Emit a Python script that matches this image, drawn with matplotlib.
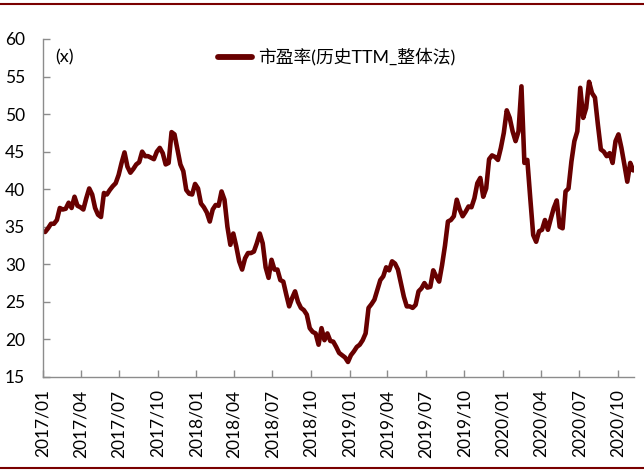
import matplotlib
matplotlib.use('Agg')
import matplotlib.pyplot as plt
import pandas as pd
from matplotlib.lines import Line2D

# Weekly P/E (TTM, whole-market method)
pe = [
    34.3, 34.8, 35.4, 35.4, 35.9, 37.5, 37.3, 37.4, 38.2, 37.5,
    39.0, 37.8, 37.6, 37.3, 38.8, 40.1, 39.3, 37.5, 36.6, 36.3,
    39.5, 39.3, 39.9, 40.4, 40.8, 41.9, 43.5, 44.9, 43.0, 42.2,
    42.7, 43.3, 43.6, 45.0, 44.4, 44.4, 44.2, 44.0, 45.0, 45.5,
    44.8, 43.3, 43.5, 47.6, 47.3, 45.3, 43.3, 42.4, 39.9, 39.4,
    39.3, 40.7, 40.1, 38.1, 37.6, 36.9, 35.7, 37.3, 37.9, 37.8,
    39.7, 38.6, 35.0, 32.6, 34.1, 32.4, 30.4, 29.3, 30.8, 31.5,
    31.5, 31.7, 32.8, 34.1, 32.8, 29.6, 28.2, 30.6, 29.3, 29.3,
    27.9, 27.7, 26.0, 24.4, 25.5, 26.4, 25.0, 24.2, 23.9, 23.3,
    21.5, 21.0, 20.8, 19.3, 21.5, 19.9, 20.8, 19.8, 19.7, 19.0,
    18.2, 17.9, 17.6, 17.0, 17.9, 18.4, 19.0, 19.3, 19.9, 20.8,
    24.2, 24.7, 25.3, 26.6, 27.9, 28.4, 29.6, 29.2, 30.4, 30.1,
    29.3, 27.5, 25.7, 24.4, 24.4, 24.2, 24.6, 26.4, 26.8, 27.5,
    26.9, 27.0, 29.2, 28.4, 27.7, 29.9, 32.5, 35.7, 35.9, 36.4,
    38.6, 37.3, 36.4, 37.0, 37.7, 37.6, 38.8, 40.8, 41.5, 39.0,
    40.1, 44.0, 44.5, 44.3, 43.9, 45.5, 47.5, 50.5, 49.5, 47.7,
    46.4, 47.7, 53.7, 43.5, 43.9, 38.8, 33.9, 33.0, 34.4, 34.6,
    35.9, 34.6, 36.1, 37.5, 38.5, 35.0, 34.8, 39.7, 40.1, 43.7,
    46.4, 47.7, 53.5, 49.5, 50.8, 54.3, 52.8, 52.2, 48.6, 45.3,
    45.0, 44.4, 44.8, 43.5, 46.4, 47.3, 45.5, 43.3, 41.0, 43.5,
    42.5,
]
first_week = '2017-01-06'
series_label = '市盈率(历史TTM_整体法)'
unit_label = '(x)'
tick_starts = ['2017-01-01', '2017-04-01', '2017-07-01', '2017-10-01',
               '2018-01-01', '2018-04-01', '2018-07-01', '2018-10-01',
               '2019-01-01', '2019-04-01', '2019-07-01', '2019-10-01',
               '2020-01-01', '2020-04-01', '2020-07-01', '2020-10-01']
tick_labels = ['2017/01', '2017/04', '2017/07', '2017/10',
               '2018/01', '2018/04', '2018/07', '2018/10',
               '2019/01', '2019/04', '2019/07', '2019/10',
               '2020/01', '2020/04', '2020/07', '2020/10']
y_ticks = [15, 20, 25, 30, 35, 40, 45, 50, 55, 60]

dates = pd.date_range(first_week, periods=len(pe), freq='7D')

plt.rcParams['font.family'] = ['Lato', 'Noto Sans CJK SC', 'DejaVu Sans']

fig = plt.figure(figsize=(6.44, 4.72), dpi=100)
ax = fig.add_axes([0.0668, 0.2013, 0.9177, 0.7161])

line_color = '#680000'
ax.plot(dates, pe, color=line_color, lw=3.3, solid_joinstyle='round',
        solid_capstyle='round', label=series_label)

ax.set_ylim(15, 60)
ax.set_yticks(y_ticks)
ax.set_xlim(pd.Timestamp('2017-01-01'), pd.Timestamp('2020-11-08'))
ax.set_xticks(pd.to_datetime(tick_starts))
ax.set_xticklabels(tick_labels, rotation=90)

for s in ['top', 'right']:
    ax.spines[s].set_visible(False)
for s in ['left', 'bottom']:
    ax.spines[s].set_color('#8c8c8c')
    ax.spines[s].set_linewidth(1.0)

ax.tick_params(axis='both', direction='in', color='#8c8c8c', length=5,
               width=1.0, labelsize=12.5, labelcolor='black')
ax.tick_params(axis='y', pad=13)
ax.tick_params(axis='x', pad=9)

ax.text(0.02, 0.947, unit_label, transform=ax.transAxes, fontsize=13,
        va='center', ha='left')

leg = ax.legend(loc='center left', bbox_to_anchor=(0.296, 0.947),
                frameon=False, fontsize=12.8, borderpad=0, borderaxespad=0,
                handlelength=1.9, handletextpad=0.35)
for h in leg.get_lines():
    h.set_linewidth(4.2)

fig.add_artist(Line2D([0, 1], [0.992, 0.992], transform=fig.transFigure,
                      color='#7a0000', lw=1.5))
fig.add_artist(Line2D([0, 1], [0.008, 0.008], transform=fig.transFigure,
                      color='#7a0000', lw=1.5))

fig.savefig('out.png', dpi=100)
